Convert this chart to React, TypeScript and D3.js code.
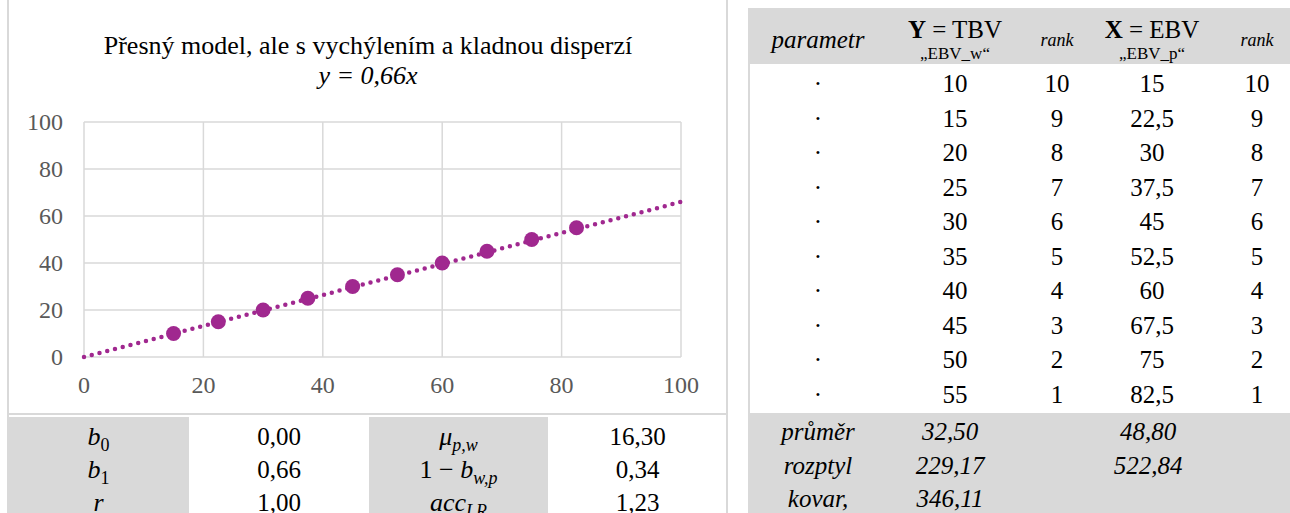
import React from "react";
import * as d3 from "d3";

// Breeding values: true (TBV = EBV_w) vs. estimated (EBV = EBV_p)
const tbv = [10, 15, 20, 25, 30, 35, 40, 45, 50, 55];
const rankTbv = [10, 9, 8, 7, 6, 5, 4, 3, 2, 1];
const ebv = [15, 22.5, 30, 37.5, 45, 52.5, 60, 67.5, 75, 82.5];
const rankEbv = [10, 9, 8, 7, 6, 5, 4, 3, 2, 1];

// Regression line y = b0 + b1 * x
const trendIntercept = 0.0;
const trendSlope = 0.66;

const axisTicks = [0, 20, 40, 60, 80, 100];

// Summary statistics under the chart
const statLeft = [
  { key: "b0", value: 0.0 },
  { key: "b1", value: 0.66 },
  { key: "r", value: 1.0 },
];
const statRight = [
  { key: "mu", value: 16.3 },
  { key: "oneMinusB", value: 0.34 },
  { key: "acc", value: 1.23 },
];

// Summary rows of the value table
const summaryLabels = ["průměr", "rozptyl", "kovar,"];
const summaryTbv = [32.5, 229.17, 346.11];
const summaryEbv: (number | null)[] = [48.8, 522.84, null];

const W = 1290;
const H = 513;
const GRAY = "#D9D9D9";
const PURPLE = "#A0288F";
const SERIF = "Liberation Serif, DejaVu Serif, Times New Roman, serif";

const fmt2 = (v: number) => d3.format(".2f")(v).replace(".", ",");
const fmtVal = (v: number) => String(v).replace(".", ",");

function MathLabel({ k, x, y }: { k: string; x: number; y: number }) {
  const common = { x, y, textAnchor: "middle" as const, fontFamily: SERIF, fontStyle: "italic", fontSize: 26, fill: "#000" };
  if (k === "b0" || k === "b1") {
    return (
      <text {...common}>
        b<tspan dy={6} fontSize={18} fontStyle="normal">{k[1]}</tspan>
      </text>
    );
  }
  if (k === "r") {
    return <text {...common}>r</text>;
  }
  if (k === "mu") {
    return (
      <text {...common}>
        μ<tspan dy={6} fontSize={18}>p,w</tspan>
      </text>
    );
  }
  if (k === "oneMinusB") {
    return (
      <text {...common}>
        <tspan fontStyle="normal">1 − </tspan>b<tspan dy={6} fontSize={18}>w,p</tspan>
      </text>
    );
  }
  return (
    <text {...common}>
      acc<tspan dy={6} fontSize={18}>LR</tspan>
    </text>
  );
}

export default function App() {
  // Chart geometry
  const x = d3.scaleLinear().domain([0, 100]).range([84, 681]);
  const y = d3.scaleLinear().domain([0, 100]).range([357, 122]);

  const trend = d3
    .line<number>()
    .x((d) => x(d))
    .y((d) => y(trendIntercept + trendSlope * d));

  const points = ebv.map((e, i) => ({ x: e, y: tbv[i] }));

  // Stats table under the chart
  const statTop = 417;
  const statRow = 33;
  const statCols = [8, 189, 369, 548, 727];
  const statCenter = (i: number) => (statCols[i] + statCols[i + 1]) / 2;

  // Value table on the right
  const tLeft = 748;
  const headTop = 8;
  const headBottom = 64;
  const footTop = 413;
  const colX = [818, 955, 1057, 1152, 1257];
  const rowY = d3.scaleLinear().domain([0, 9]).range([84, 395]);
  const footY = [432, 466, 499];

  const txt = { fontFamily: SERIF, fontSize: 25, fill: "#000" };
  const itxt = { ...txt, fontStyle: "italic" };

  return (
    <svg width={W} height={H} style={{ position: "absolute", left: 0, top: 0, background: "#fff" }}>
      {/* Left panel frame */}
      <line x1={8} x2={8} y1={0} y2={H} stroke={GRAY} strokeWidth={2} />
      <line x1={727} x2={727} y1={0} y2={H} stroke={GRAY} strokeWidth={2} />
      <line x1={8} x2={727} y1={414} y2={414} stroke={GRAY} strokeWidth={2} />

      {/* Title */}
      <text x={368} y={54} textAnchor="middle" {...txt} fontSize={26}>
        Přesný model, ale s vychýlením a kladnou disperzí
      </text>
      <text x={368} y={84} textAnchor="middle" {...itxt} fontSize={26}>
        y = 0,66x
      </text>

      {/* Gridlines */}
      {axisTicks.map((t) => (
        <line key={"gx" + t} x1={x(t)} x2={x(t)} y1={y(0)} y2={y(100)} stroke={GRAY} strokeWidth={1.5} />
      ))}
      {axisTicks.map((t) => (
        <line key={"gy" + t} x1={x(0)} x2={x(100)} y1={y(t)} y2={y(t)} stroke={GRAY} strokeWidth={1.5} />
      ))}

      {/* Axis labels */}
      {axisTicks.map((t) => (
        <text key={"ly" + t} x={63} y={y(t) + 8} textAnchor="end" {...txt} fontSize={24} fill="#595959">
          {t}
        </text>
      ))}
      {axisTicks.map((t) => (
        <text key={"lx" + t} x={x(t)} y={393} textAnchor="middle" {...txt} fontSize={24} fill="#595959">
          {t}
        </text>
      ))}

      {/* Dotted regression line */}
      <path
        d={trend([0, 100]) || ""}
        fill="none"
        stroke={PURPLE}
        strokeWidth={4.5}
        strokeLinecap="round"
        strokeDasharray="0 8"
      />

      {/* Points */}
      {points.map((p, i) => (
        <circle key={i} cx={x(p.x)} cy={y(p.y)} r={7.5} fill={PURPLE} />
      ))}

      {/* Stats table */}
      <rect x={statCols[0]} y={statTop} width={statCols[1] - statCols[0]} height={H - statTop} fill={GRAY} />
      <rect x={statCols[2]} y={statTop} width={statCols[3] - statCols[2]} height={H - statTop} fill={GRAY} />
      {statLeft.map((s, i) => (
        <g key={s.key}>
          <MathLabel k={s.key} x={statCenter(0)} y={statTop + 20 + i * statRow + 8} />
          <text x={statCenter(1)} y={statTop + 20 + i * statRow + 8} textAnchor="middle" {...txt}>
            {fmt2(s.value)}
          </text>
        </g>
      ))}
      {statRight.map((s, i) => (
        <g key={s.key}>
          <MathLabel k={s.key} x={statCenter(2)} y={statTop + 20 + i * statRow + 8} />
          <text x={statCenter(3)} y={statTop + 20 + i * statRow + 8} textAnchor="middle" {...txt}>
            {fmt2(s.value)}
          </text>
        </g>
      ))}

      {/* Value table: header */}
      <rect x={tLeft} y={headTop} width={W - tLeft} height={headBottom - headTop} fill={GRAY} />
      <line x1={tLeft + 1} x2={tLeft + 1} y1={headBottom} y2={footTop} stroke={GRAY} strokeWidth={2} />
      <text x={colX[0]} y={48} textAnchor="middle" {...itxt}>
        parametr
      </text>
      <text x={colX[1]} y={38} textAnchor="middle" {...txt}>
        <tspan fontWeight="bold">Y</tspan> = TBV
      </text>
      <text x={colX[1]} y={59} textAnchor="middle" {...txt} fontSize={17}>
        „EBV_w“
      </text>
      <text x={colX[2]} y={46} textAnchor="middle" {...itxt} fontSize={18}>
        rank
      </text>
      <text x={colX[3]} y={38} textAnchor="middle" {...txt}>
        <tspan fontWeight="bold">X</tspan> = EBV
      </text>
      <text x={colX[3]} y={59} textAnchor="middle" {...txt} fontSize={17}>
        „EBV_p“
      </text>
      <text x={colX[4]} y={46} textAnchor="middle" {...itxt} fontSize={18}>
        rank
      </text>

      {/* Value table: rows */}
      {tbv.map((v, i) => (
        <g key={"row" + i}>
          <text x={colX[0]} y={rowY(i) + 8} textAnchor="middle" {...txt}>·</text>
          <text x={colX[1]} y={rowY(i) + 8} textAnchor="middle" {...txt}>{fmtVal(v)}</text>
          <text x={colX[2]} y={rowY(i) + 8} textAnchor="middle" {...txt}>{rankTbv[i]}</text>
          <text x={colX[3]} y={rowY(i) + 8} textAnchor="middle" {...txt}>{fmtVal(ebv[i])}</text>
          <text x={colX[4]} y={rowY(i) + 8} textAnchor="middle" {...txt}>{rankEbv[i]}</text>
        </g>
      ))}

      {/* Value table: summary */}
      <rect x={tLeft} y={footTop} width={W - tLeft} height={H - footTop} fill={GRAY} />
      {summaryLabels.map((lab, i) => (
        <g key={lab}>
          <text x={colX[0]} y={footY[i] + 8} textAnchor="middle" {...itxt}>{lab}</text>
          <text x={950} y={footY[i] + 8} textAnchor="middle" {...itxt}>{fmt2(summaryTbv[i])}</text>
          {summaryEbv[i] !== null && (
            <text x={1148} y={footY[i] + 8} textAnchor="middle" {...itxt}>{fmt2(summaryEbv[i] as number)}</text>
          )}
        </g>
      ))}
    </svg>
  );
}
